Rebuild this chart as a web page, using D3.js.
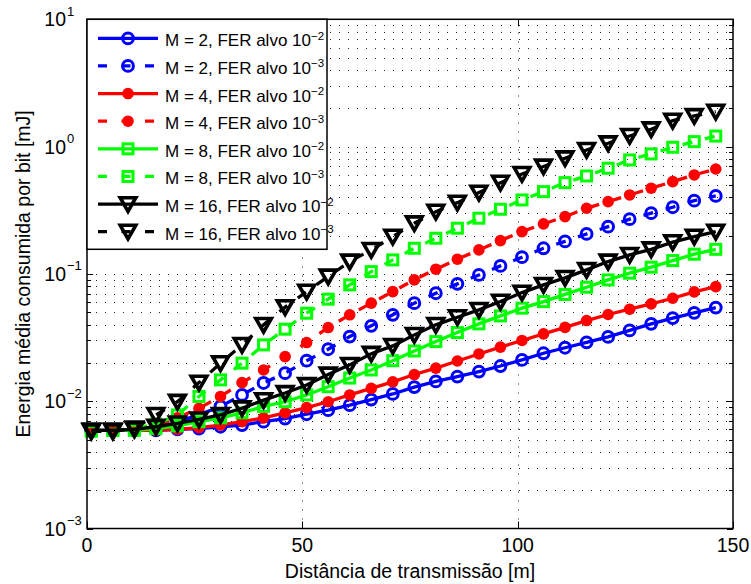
<!DOCTYPE html>
<html>
<head>
<meta charset="utf-8">
<script src="https://cdn.jsdelivr.net/npm/d3@7"></script>
<style>
  html, body { margin: 0; padding: 0; background: #fff; }
  svg { display: block; font-family: "Liberation Sans", Arial, sans-serif; }
</style>
</head>
<body>
<div id="chart"></div>
<script>
// ---- data ----
const distances = [1, 6, 11, 16, 21, 26, 31, 36, 41, 46, 51, 56, 61, 66, 71, 76, 81, 86, 91, 96, 101, 106, 111, 116, 121, 126, 131, 136, 141, 146];

const energyM2Fer2 = [0.0059, 0.0059, 0.0059, 0.0059, 0.0060, 0.0061, 0.0063, 0.0065, 0.0069, 0.0073, 0.0079, 0.0085, 0.0093, 0.0103, 0.0114, 0.0129, 0.0143, 0.0156, 0.0171, 0.0189, 0.0211, 0.0238, 0.0263, 0.0290, 0.0320, 0.0360, 0.0405, 0.0450, 0.0495, 0.0544];
const energyM2Fer3 = [0.0059, 0.0059, 0.0060, 0.0063, 0.0069, 0.0078, 0.0091, 0.0112, 0.0139, 0.0166, 0.0208, 0.0256, 0.0322, 0.0391, 0.0477, 0.0589, 0.0705, 0.0835, 0.0982, 0.1156, 0.1353, 0.159, 0.180, 0.206, 0.235, 0.269, 0.300, 0.334, 0.376, 0.410];
const energyM4Fer2 = [0.0059, 0.0059, 0.0059, 0.0059, 0.0060, 0.0062, 0.0065, 0.0069, 0.0074, 0.0081, 0.0089, 0.0099, 0.0112, 0.0126, 0.0142, 0.0162, 0.0182, 0.0207, 0.0235, 0.0266, 0.0300, 0.0338, 0.0380, 0.0430, 0.0480, 0.0528, 0.0581, 0.0644, 0.0722, 0.0795];
const energyM4Fer3 = [0.0059, 0.0059, 0.0061, 0.0065, 0.0074, 0.0088, 0.0109, 0.0140, 0.0176, 0.0224, 0.0289, 0.0379, 0.0477, 0.0589, 0.0726, 0.0897, 0.1089, 0.1304, 0.1543, 0.1827, 0.2149, 0.247, 0.2818, 0.328, 0.3695, 0.4172, 0.471, 0.5306, 0.599, 0.667];
const energyM8Fer2 = [0.0059, 0.0059, 0.0059, 0.0061, 0.0064, 0.0069, 0.0074, 0.0081, 0.0091, 0.0099, 0.0112, 0.0130, 0.0152, 0.0176, 0.0208, 0.0248, 0.0294, 0.0346, 0.0405, 0.0468, 0.0538, 0.0606, 0.0690, 0.0786, 0.0897, 0.1013, 0.1129, 0.1272, 0.1428, 0.156];
const energyM8Fer3 = [0.0058, 0.0059, 0.0061, 0.0066, 0.0078, 0.0109, 0.0147, 0.0199, 0.0277, 0.0368, 0.0491, 0.0633, 0.0820, 0.1042, 0.1288, 0.159, 0.1906, 0.2285, 0.2738, 0.322, 0.381, 0.443, 0.521, 0.588, 0.676, 0.786, 0.876, 0.988, 1.094, 1.21];
const energyM16Fer2 = [0.0059, 0.0059, 0.0060, 0.0063, 0.0067, 0.0072, 0.0078, 0.0088, 0.0102, 0.0116, 0.0134, 0.0162, 0.0193, 0.0236, 0.0272, 0.0332, 0.0398, 0.0457, 0.0522, 0.0606, 0.0713, 0.0820, 0.0930, 0.1075, 0.1250, 0.141, 0.156, 0.1774, 0.1963, 0.215];
const energyM16Fer3 = [0.0058, 0.0058, 0.0061, 0.0078, 0.0099, 0.0140, 0.0199, 0.0277, 0.0398, 0.0548, 0.0726, 0.0953, 0.125, 0.1543, 0.1963, 0.250, 0.308, 0.363, 0.435, 0.521, 0.610, 0.697, 0.810, 0.941, 1.062, 1.212, 1.368, 1.60, 1.74, 1.88];

const modOrders = [2, 2, 4, 4, 8, 8, 16, 16];
const ferExponents = ["−2", "−3", "−2", "−3", "−2", "−3", "−2", "−3"];

const xTicks = [0, 50, 100, 150];
const yDecades = [-3, -2, -1, 0, 1];

const xLabel = "Distância de transmissão [m]";
const yLabel = "Energia média consumida por bit [mJ]";

// ---- layout ----
const W = 751, H = 584;
const plotLeft = 87, plotRight = 733, plotTop = 19.3, plotBottom = 528.5;

const x = d3.scaleLinear().domain([0, 150]).range([plotLeft, plotRight]);
const y = d3.scaleLog().domain([1e-3, 10]).range([plotBottom, plotTop]);

const series = [
    { values: energyM2Fer2, color: "#0000ff", dashed: false, marker: "circle" },
    { values: energyM2Fer3, color: "#0000ff", dashed: true, marker: "circle" },
    { values: energyM4Fer2, color: "#ff0000", dashed: false, marker: "dot" },
    { values: energyM4Fer3, color: "#ff0000", dashed: true, marker: "dot" },
    { values: energyM8Fer2, color: "#00ff00", dashed: false, marker: "square" },
    { values: energyM8Fer3, color: "#00ff00", dashed: true, marker: "square" },
    { values: energyM16Fer2, color: "#000000", dashed: false, marker: "tri" },
    { values: energyM16Fer3, color: "#000000", dashed: true, marker: "tri" }
];

const svg = d3.select("#chart").append("svg")
    .attr("width", W).attr("height", H);

svg.append("rect").attr("width", W).attr("height", H).attr("fill", "#fff");

// minor/major y values for grid + ticks
const yAll = [];
for (let e = -3; e < 1; e++) {
    for (let m = 1; m <= 9; m++) yAll.push(m * Math.pow(10, e));
}
yAll.push(10);

// ---- grid ----
const grid = svg.append("g")
    .attr("stroke", "#222")
    .attr("stroke-width", 1)
    .attr("stroke-dasharray", "1,8");

grid.selectAll("line.gy")
    .data(yAll.filter(v => v > 1.0001e-3 && v < 9.999))
    .enter().append("line")
    .attr("x1", plotLeft).attr("x2", plotRight)
    .attr("y1", d => Math.round(y(d)) + 0.5)
    .attr("y2", d => Math.round(y(d)) + 0.5);

grid.selectAll("line.gx")
    .data(xTicks.filter(v => v > 0 && v < 150))
    .enter().append("line")
    .attr("y1", plotBottom).attr("y2", plotTop)
    .attr("x1", d => Math.round(x(d)) + 0.5)
    .attr("x2", d => Math.round(x(d)) + 0.5);

// ---- ticks ----
const ticks = svg.append("g").attr("stroke", "#000").attr("stroke-width", 1);
xTicks.forEach(v => {
    const px = Math.round(x(v)) + 0.5;
    ticks.append("line").attr("x1", px).attr("x2", px).attr("y1", plotBottom).attr("y2", plotBottom - 7);
    ticks.append("line").attr("x1", px).attr("x2", px).attr("y1", plotTop).attr("y2", plotTop + 7);
});
yAll.forEach(v => {
    const py = Math.round(y(v)) + 0.5;
    const isMajor = Math.abs(Math.log10(v) - Math.round(Math.log10(v))) < 1e-9;
    const len = isMajor ? 6 : 4;
    ticks.append("line").attr("x1", plotLeft).attr("x2", plotLeft + len).attr("y1", py).attr("y2", py);
    ticks.append("line").attr("x1", plotRight).attr("x2", plotRight - len).attr("y1", py).attr("y2", py);
});

// ---- data ----
const lineGen = d3.line()
    .x((d, i) => x(distances[i]))
    .y(d => y(d));

function drawMarker(g, kind, cx, cy, color) {
    if (kind === "circle") {
        g.append("circle").attr("cx", cx).attr("cy", cy).attr("r", 5.4)
            .attr("fill", "none").attr("stroke", color).attr("stroke-width", 3);
    } else if (kind === "dot") {
        g.append("circle").attr("cx", cx).attr("cy", cy).attr("r", 5.8)
            .attr("fill", color).attr("stroke", "none");
    } else if (kind === "square") {
        g.append("rect").attr("x", cx - 5).attr("y", cy - 5)
            .attr("width", 10).attr("height", 10)
            .attr("fill", "none").attr("stroke", color).attr("stroke-width", 3);
    } else if (kind === "tri") {
        const pts = [[cx - 7.8, cy - 6.4], [cx + 7.8, cy - 6.4], [cx, cy + 7.2]];
        g.append("path").attr("d", "M" + pts.map(p => p.join(",")).join("L") + "Z")
            .attr("fill", "none").attr("stroke", color).attr("stroke-width", 3.6)
            .attr("stroke-linejoin", "miter");
    }
}

const plot = svg.append("g");
series.forEach(s => {
    const g = plot.append("g");
    g.append("path")
        .attr("d", lineGen(s.values))
        .attr("fill", "none")
        .attr("stroke", s.color)
        .attr("stroke-width", 3.3)
        .attr("stroke-dasharray", s.dashed ? "10,13" : null);
    s.values.forEach((v, i) => drawMarker(g, s.marker, x(distances[i]), y(v), s.color));
});

// ---- axes box ----
svg.append("rect")
    .attr("x", plotLeft).attr("y", plotTop)
    .attr("width", plotRight - plotLeft).attr("height", plotBottom - plotTop)
    .attr("fill", "none").attr("stroke", "#000").attr("stroke-width", 1.5);

// ---- tick labels ----
svg.append("g").selectAll("text")
    .data(xTicks)
    .enter().append("text")
    .attr("x", d => x(d))
    .attr("y", 552)
    .attr("text-anchor", "middle")
    .attr("font-size", "19.5px")
    .attr("fill", "#000")
    .text(d => d);

const yl = svg.append("g");
yDecades.forEach(e => {
    const py = y(Math.pow(10, e));
    yl.append("text")
        .attr("x", 66).attr("y", py + 7)
        .attr("text-anchor", "end")
        .attr("font-size", "19.5px")
        .text("10");
    yl.append("text")
        .attr("x", 67).attr("y", py - 3.5)
        .attr("font-size", "13px")
        .text(e < 0 ? "−" + (-e) : String(e));
});

// ---- axis labels ----
svg.append("text")
    .attr("x", (plotLeft + plotRight) / 2)
    .attr("y", 578)
    .attr("text-anchor", "middle")
    .attr("font-size", "19.5px")
    .text(xLabel);

svg.append("text")
    .attr("transform", `translate(30,${(plotTop + plotBottom) / 2}) rotate(-90)`)
    .attr("text-anchor", "middle")
    .attr("font-size", "19.5px")
    .text(yLabel);

// ---- legend ----
const legX = plotLeft, legY = plotTop, legW = 240, legH = 230;
const legend = svg.append("g");
legend.append("rect")
    .attr("x", legX).attr("y", legY).attr("width", legW).attr("height", legH)
    .attr("fill", "#fff").attr("stroke", "#000").attr("stroke-width", 1.5);

series.forEach((s, i) => {
    const ry = 38.3 + i * 27.63;
    const g = legend.append("g");
    g.append("line")
        .attr("x1", 98).attr("x2", 158).attr("y1", ry).attr("y2", ry)
        .attr("stroke", s.color).attr("stroke-width", 3.3)
        .attr("stroke-dasharray", s.dashed ? "9,14.5" : null);
    drawMarker(g, s.marker, 128, ry, s.color);
    const t = g.append("text")
        .attr("x", 165).attr("y", ry + 8)
        .attr("font-size", "17px");
    t.append("tspan").text(`M = ${modOrders[i]}, FER alvo 10`);
    t.append("tspan").attr("font-size", "11.5px").attr("dy", -6.5).text(ferExponents[i]);
});
</script>
</body>
</html>
